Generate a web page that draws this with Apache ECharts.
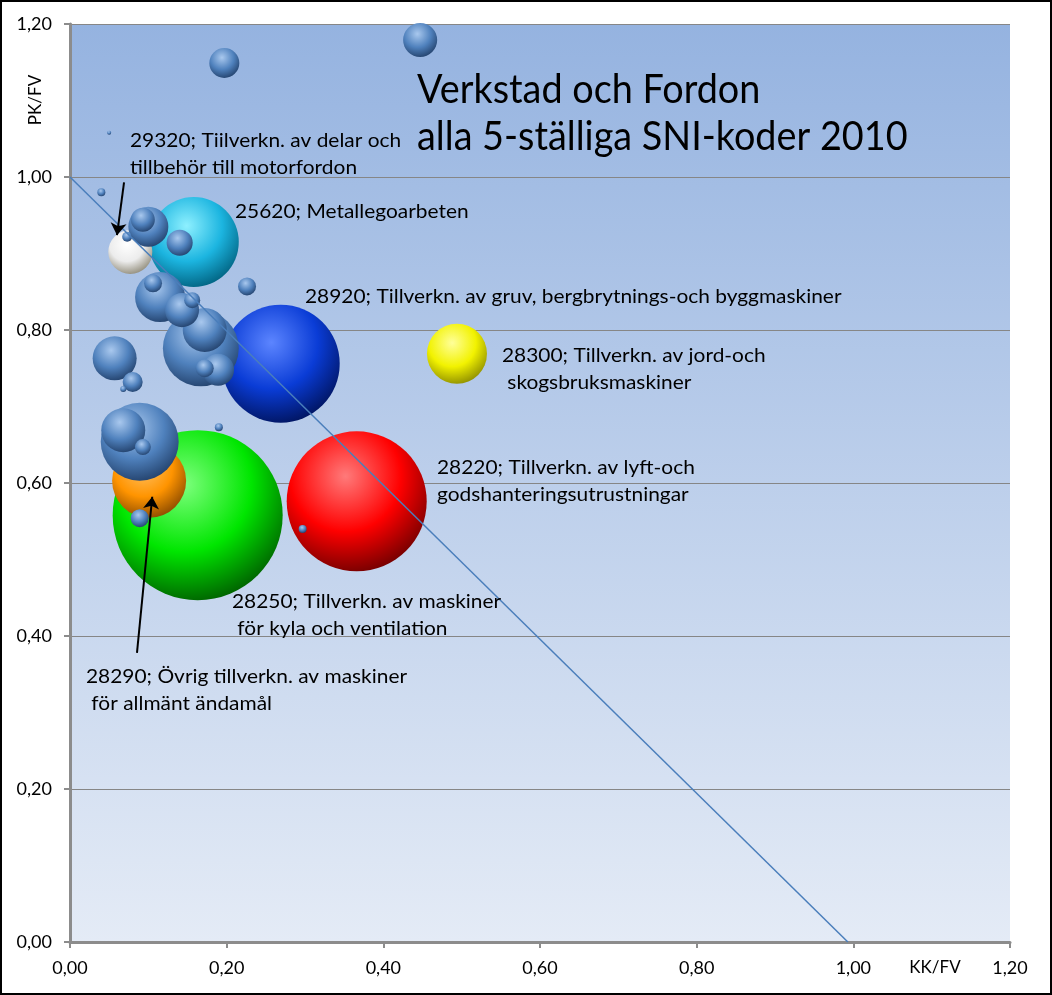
<!DOCTYPE html>
<html>
<head>
<meta charset="utf-8">
<script src="https://cdn.jsdelivr.net/npm/echarts@6/dist/echarts.min.js"></script>
<style>
  html, body { margin: 0; padding: 0; background: #fff; }
  #main { width: 1052px; height: 995px; }
</style>
</head>
<body>
<div id="main"></div>
<script>
// övriga 5-ställiga SNI-koder (blå bubblor)
var ovrigaKK = [0.447, 0.197, 0.050, 0.040, 0.100, 0.093, 0.073, 0.140, 0.226, 0.115, 0.106, 0.143, 0.156,
                0.167, 0.172, 0.189, 0.172, 0.057, 0.080, 0.068, 0.089, 0.068, 0.093, 0.089, 0.297, 0.190];
var ovrigaPK = [1.179, 1.149, 1.058, 0.980, 0.935, 0.944, 0.922, 0.914, 0.857, 0.843, 0.861, 0.826, 0.839,
                0.776, 0.800, 0.748, 0.750, 0.763, 0.732, 0.723, 0.654, 0.669, 0.647, 0.554, 0.540, 0.673];
var ovrigaFV = [290, 225, 4, 16, 400, 144, 25, 170, 81, 625, 81, 290, 64,
                1440, 484, 256, 81, 484, 100, 9, 1520, 484, 64, 81, 16, 16];

// markerade SNI-koder
var markKod = ['28250', '28220', '28920', '25620', '28290', '28300', '29320'];
var markKK  = [0.163, 0.366, 0.269, 0.158, 0.101, 0.494, 0.077];
var markPK  = [0.558, 0.576, 0.756, 0.915, 0.603, 0.769, 0.902];
var markFV  = [7225, 4900, 3480, 2025, 1370, 900, 484];

// gränslinje KK/FV + PK/FV = 1
var linjeKK = [0, 0.993];
var linjePK = [1.0, 0];

var yTicks = [0, 0.2, 0.4, 0.6, 0.8, 1.0, 1.2];

var myChart = echarts.init(document.getElementById('main'));

function klot(c) {
  return new echarts.graphic.RadialGradient(0.42, 0.32, 0.72, [
    { offset: 0, color: c[0] },
    { offset: 0.55, color: c[1] },
    { offset: 1, color: c[2] }
  ]);
}
var blaKlot = ['#a9c8ee', '#4f81bd', '#22406a'];
var markFarg = {
  '28250': ['#7dff7d', '#00e600', '#005c00'],
  '28220': ['#ff7a7a', '#ff0000', '#6e0000'],
  '28920': ['#5c85ff', '#0a3cd6', '#00135c'],
  '25620': ['#8ef0ff', '#1cb5e0', '#00607e'],
  '28290': ['#ffc266', '#ff9400', '#8a4a00'],
  '28300': ['#ffff99', '#f2f200', '#8c8c00'],
  '29320': ['#ffffff', '#ececec', '#8f8a78']
};

function diam(v) { return 2 * Math.sqrt(v); }

var ovrigaData = ovrigaKK.map(function (x, i) { return [x, ovrigaPK[i], ovrigaFV[i]]; })
  .sort(function (a, b) { return b[2] - a[2]; });
var markData = markKod.map(function (k, i) {
  return { name: k, value: [markKK[i], markPK[i], markFV[i]], itemStyle: { color: klot(markFarg[k]) } };
});

function fmt(v) { return v.toFixed(2).replace('.', ','); }

var labelFont = '19px Lato, "Open Sans", sans-serif';
function etikett(x, y, txt) {
  return { type: 'text', x: x, y: y, scaleX: 1.1, z: 50,
           style: { text: txt, font: labelFont, lineHeight: 27, fill: '#000' } };
}

option = {
  animation: false,
  backgroundColor: '#fff',
  grid: {
    left: 70, top: 24, right: 42, bottom: 53,
    show: true, borderWidth: 0,
    backgroundColor: new echarts.graphic.LinearGradient(0, 0, 0, 1, [
      { offset: 0, color: '#95b3e0' },
      { offset: 1, color: '#e4ebf6' }
    ])
  },
  xAxis: {
    type: 'value', min: 0, max: 1.2, interval: 0.2,
    axisLine: { show: true, onZero: false, lineStyle: { color: '#8c8c8c', width: 3 } },
    axisTick: { show: true, length: 6, lineStyle: { color: '#8c8c8c', width: 2 } },
    axisLabel: { formatter: fmt, margin: 17, color: '#000', fontSize: 18, fontFamily: 'Lato' },
    splitLine: { show: false }
  },
  yAxis: {
    type: 'value', min: yTicks[0], max: yTicks[yTicks.length - 1], interval: 0.2,
    axisLine: { show: true, onZero: false, lineStyle: { color: '#8c8c8c', width: 3 } },
    axisTick: { show: true, length: 6, lineStyle: { color: '#8c8c8c', width: 2 } },
    axisLabel: { formatter: fmt, margin: 18, color: '#000', fontSize: 18, fontFamily: 'Lato' },
    splitLine: { show: true, lineStyle: { color: '#868686', width: 1 } }
  },
  series: [
    {
      name: 'Markerade', type: 'scatter', z: 2,
      data: markData,
      symbolSize: function (val) { return diam(val[2]); },
      itemStyle: { opacity: 1 }
    },
    {
      name: 'Övriga', type: 'scatter', z: 3,
      data: ovrigaData,
      symbolSize: function (val) { return diam(val[2]); },
      itemStyle: { color: klot(blaKlot), opacity: 1 }
    },
    {
      name: 'Gräns', type: 'line', z: 4,
      data: linjeKK.map(function (x, i) { return [x, linjePK[i]]; }),
      symbol: 'none',
      lineStyle: { color: '#4a7ebb', width: 1.5 },
      markLine: {
        silent: true, symbol: ['none', 'arrow'], symbolSize: 12,
        label: { show: false },
        lineStyle: { color: '#000', width: 2, type: 'solid' },
        data: [
          [{ coord: [0.069, 0.993] }, { coord: [0.060, 0.924] }],
          [{ coord: [0.0855, 0.378] }, { coord: [0.105, 0.582] }]
        ]
      }
    }
  ],
  graphic: [
    { type: 'rect', shape: { x: 1, y: 1, width: 1050, height: 993 }, style: { fill: 'none', stroke: '#000', lineWidth: 2 }, z: 100 },
    { type: 'text', x: 417, y: 67, scaleX: 0.945, z: 50, style: { text: 'Verkstad och Fordon\nalla 5-ställiga SNI-koder 2010', font: '40px Lato, sans-serif', lineHeight: 47, fill: '#000' } },
    etikett(130, 127, '29320; Tiilverkn. av delar och\ntillbehör till motorfordon'),
    etikett(235, 198, '25620; Metallegoarbeten'),
    etikett(305, 283, '28920; Tillverkn. av gruv, bergbrytnings-och byggmaskiner'),
    etikett(502, 342, '28300; Tillverkn. av jord-och\n skogsbruksmaskiner'),
    etikett(437, 454, '28220; Tillverkn. av lyft-och\ngodshanteringsutrustningar'),
    etikett(232, 588, '28250; Tillverkn. av maskiner\n för kyla och ventilation'),
    etikett(86, 663, '28290; Övrig tillverkn. av maskiner\n för allmänt ändamål'),
    { type: 'text', x: 36, y: 100, rotation: Math.PI / 2, z: 50, style: { text: 'PK/FV', font: '17px Lato, sans-serif', fill: '#000', align: 'center', verticalAlign: 'middle' } },
    { type: 'text', x: 935, y: 968, z: 50, style: { text: 'KK/FV', font: '17px Lato, sans-serif', fill: '#000', align: 'center', verticalAlign: 'middle' } }
  ]
};

myChart.setOption(option);
</script>
</body>
</html>
